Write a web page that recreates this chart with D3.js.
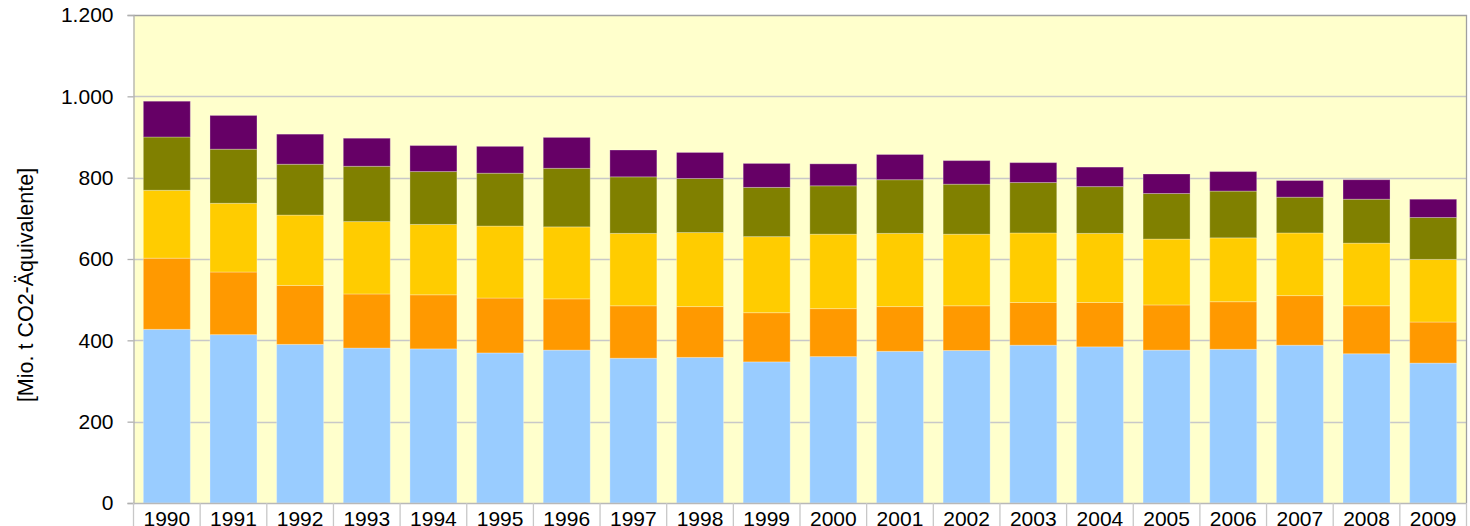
<!DOCTYPE html>
<html><head><meta charset="utf-8">
<script src="https://cdn.jsdelivr.net/npm/d3@7"></script>
<style>
html,body{margin:0;padding:0;background:#fff;}
svg{display:block;font-family:"Liberation Sans",Arial,sans-serif;}
</style></head>
<body><svg id="c" width="1470" height="526"></svg>
<script>
const years = ["1990","1991","1992","1993","1994","1995","1996","1997","1998","1999","2000","2001","2002","2003","2004","2005","2006","2007","2008","2009"];
const seriesKeys = ["s1","s2","s3","s4","s5"];
const s1 = [427,414,390,381,379,369,376,356,358,347,360,373,375,388,384,376,378,388,367,344];
const s2 = [175,154,145,133,133,135,126,129,125,121,118,110,110,105,109,111,117,122,118,101];
const s3 = [167,169,173,178,173,177,177,178,182,187,183,180,176,171,170,162,157,154,154,154];
const s4 = [131,133,125,136,130,130,144,139,133,121,119,132,123,124,115,112,115,88,108,103];
const s5 = [88,83,74,69,64,66,76,66,64,59,54,62,58,49,48,48,48,41,48,45];
const seriesColors = ["#99CCFF","#FF9900","#FFCC00","#808000","#660066"];
const yTicks = [0,200,400,600,800,1000,1200];
const yTitle = "[Mio. t CO2-Äquivalente]";

const table = years.map((y,i)=>({year:y,s1:s1[i],s2:s2[i],s3:s3[i],s4:s4[i],s5:s5[i]}));
const stacked = d3.stack().keys(seriesKeys)(table);

const svg = d3.select("#c");
const L = 133.5, R = 1466.5, T = 15, B = 503;
const pad = 0.295;
const x = d3.scaleBand().domain(years).range([L,R]).paddingInner(pad).paddingOuter(pad/2);
const y = d3.scaleLinear().domain([0,1200]).range([B,T]);
const de = d3.formatLocale({decimal:",",thousands:".",grouping:[3],currency:["","€"]});
const fmt = de.format(",");

svg.append("rect").attr("x",L).attr("y",T).attr("width",R-L).attr("height",B-T).attr("fill","#FFFFCC");

// gridlines
svg.append("g").selectAll("line").data(yTicks.filter(d=>d>0 && d<1200)).join("line")
  .attr("x1",L).attr("x2",R).attr("y1",d=>Math.round(y(d))+0.5).attr("y2",d=>Math.round(y(d))+0.5)
  .attr("stroke","#c8c8c8").attr("stroke-width",1.3);

// bars
svg.append("g").selectAll("g").data(stacked).join("g")
  .attr("fill",(d,i)=>seriesColors[i])
  .selectAll("rect").data(d=>d).join("rect")
  .attr("x",d=>x(d.data.year)).attr("width",x.bandwidth())
  .attr("y",d=>y(d[1])).attr("height",d=>y(d[0])-y(d[1]))
  .attr("stroke","rgba(255,255,255,0.28)").attr("stroke-width",1);

// border top/right
svg.append("path").attr("d",`M${L},${T+0.5}H${R}V${B}`).attr("fill","none").attr("stroke","#a0a0a0").attr("stroke-width",1.3);

// y axis
const ya = svg.append("g").attr("transform",`translate(${L},0)`)
  .call(d3.axisLeft(y).tickValues(yTicks).tickFormat(fmt).tickSize(6).tickPadding(14));
ya.select(".domain").attr("stroke","#b0b0b0").attr("stroke-width",1.3);
ya.selectAll(".tick line").attr("stroke","#b0b0b0").attr("stroke-width",1.3);
ya.selectAll(".tick text").attr("font-size",21).attr("fill","#000").attr("font-family","Liberation Sans, Arial, sans-serif");

// x axis
const xa = svg.append("g").attr("transform",`translate(0,${B})`)
  .call(d3.axisBottom(x).tickSize(0).tickPadding(0));
xa.select(".domain").remove();
svg.append("line").attr("x1",L).attr("x2",R).attr("y1",B+0.5).attr("y2",B+0.5).attr("stroke","#b8b8b8").attr("stroke-width",1.5);
xa.selectAll(".tick text").attr("font-size",21).attr("fill","#000").attr("dy",null).attr("y",22.5)
  .attr("font-family","Liberation Sans, Arial, sans-serif").attr("dominant-baseline","auto");
// category separators
const step = x.step();
svg.append("g").selectAll("line").data(d3.range(years.length+1)).join("line")
  .attr("x1",i=>L+i*step).attr("x2",i=>L+i*step).attr("y1",B).attr("y2",526)
  .attr("stroke","#c8c8c8").attr("stroke-width",1.3);

// y title
svg.append("text").attr("transform","translate(26,285) rotate(-90)")
  .attr("text-anchor","middle").attr("dominant-baseline","central")
  .attr("font-size",21.5).attr("fill","#000").text(yTitle);
</script></body></html>
